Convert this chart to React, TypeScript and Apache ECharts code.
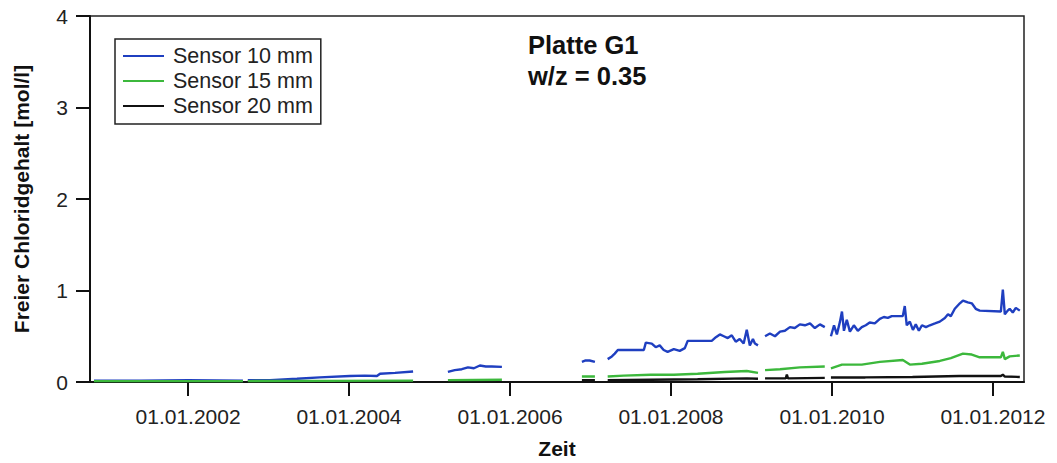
import React, { useEffect, useRef } from "react";
import * as echarts from "echarts";

const seriesNames = ["Sensor 10 mm", "Sensor 15 mm", "Sensor 20 mm"];
const seriesColors = ["#1f3fc0", "#3cb83c", "#111111"];
const tickYears = [2002, 2004, 2006, 2008, 2010, 2012];
const yTicks = [0, 1, 2, 3, 4];

// [date, value]; null = measuring gap
const sensor10: [string, number | null][] = [
  ["2000-10-31", 0.015], ["2001-06-01", 0.015], ["2002-01-01", 0.02], ["2002-09-07", 0.015],
  ["2002-09-18", null],
  ["2002-09-29", 0.02], ["2003-01-08", 0.02], ["2003-05-10", 0.035], ["2003-08-22", 0.05],
  ["2004-01-05", 0.065], ["2004-03-13", 0.07], ["2004-05-07", 0.065], ["2004-05-21", 0.09],
  ["2004-07-28", 0.1], ["2004-10-18", 0.115],
  ["2005-01-01", null],
  ["2005-03-25", 0.11], ["2005-04-25", 0.13], ["2005-05-27", 0.14], ["2005-06-24", 0.16],
  ["2005-07-21", 0.15], ["2005-08-17", 0.18], ["2005-09-13", 0.17], ["2005-10-10", 0.17],
  ["2005-11-25", 0.165],
  ["2006-06-01", null],
  ["2006-11-23", 0.22], ["2006-12-10", 0.235], ["2006-12-28", 0.235], ["2007-01-21", 0.22],
  ["2007-02-20", null],
  ["2007-03-20", 0.25], ["2007-04-08", 0.28], ["2007-04-21", 0.31], ["2007-05-05", 0.35],
  ["2007-08-31", 0.35], ["2007-09-09", 0.43], ["2007-10-06", 0.42], ["2007-10-24", 0.38],
  ["2007-11-11", 0.4], ["2007-11-29", 0.35], ["2007-12-17", 0.33], ["2008-01-14", 0.36],
  ["2008-02-10", 0.34], ["2008-03-04", 0.37], ["2008-03-17", 0.45], ["2008-07-04", 0.45],
  ["2008-07-23", 0.49], ["2008-08-10", 0.52], ["2008-08-28", 0.5], ["2008-09-15", 0.48],
  ["2008-10-03", 0.51], ["2008-10-21", 0.44], ["2008-11-08", 0.47], ["2008-11-26", 0.42],
  ["2008-12-10", 0.57], ["2008-12-24", 0.4], ["2009-01-07", 0.47], ["2009-01-16", 0.42],
  ["2009-01-30", 0.4],
  ["2009-02-15", null],
  ["2009-03-03", 0.5], ["2009-03-25", 0.53], ["2009-04-17", 0.5], ["2009-05-10", 0.55],
  ["2009-06-01", 0.56], ["2009-06-24", 0.6], ["2009-07-16", 0.59], ["2009-08-08", 0.63],
  ["2009-08-31", 0.62], ["2009-09-23", 0.64], ["2009-10-15", 0.59], ["2009-11-07", 0.63],
  ["2009-11-29", 0.6],
  ["2009-12-12", null],
  ["2009-12-27", 0.5], ["2010-01-10", 0.62], ["2010-01-23", 0.52], ["2010-02-06", 0.66],
  ["2010-02-15", 0.77], ["2010-02-24", 0.56], ["2010-03-09", 0.68], ["2010-03-23", 0.55],
  ["2010-04-10", 0.62], ["2010-04-28", 0.56], ["2010-05-16", 0.6], ["2010-06-03", 0.62],
  ["2010-06-21", 0.65], ["2010-07-14", 0.64], ["2010-08-06", 0.69], ["2010-08-24", 0.71],
  ["2010-09-11", 0.7], ["2010-09-29", 0.72], ["2010-11-18", 0.72], ["2010-11-27", 0.83],
  ["2010-12-06", 0.62], ["2010-12-20", 0.66], ["2011-01-03", 0.57], ["2011-01-16", 0.63],
  ["2011-01-30", 0.56], ["2011-02-13", 0.62], ["2011-03-03", 0.6], ["2011-03-21", 0.62],
  ["2011-04-13", 0.64], ["2011-05-05", 0.66], ["2011-05-28", 0.7], ["2011-06-11", 0.74],
  ["2011-06-24", 0.72], ["2011-07-12", 0.8], ["2011-08-04", 0.86], ["2011-08-18", 0.89],
  ["2011-09-09", 0.87], ["2011-09-27", 0.86], ["2011-10-15", 0.8], ["2011-11-02", 0.78],
  ["2012-02-06", 0.77], ["2012-02-15", 1.01], ["2012-02-24", 0.74], ["2012-03-08", 0.78],
  ["2012-03-17", 0.8], ["2012-03-31", 0.76], ["2012-04-14", 0.81], ["2012-05-02", 0.78],
];

const sensor15: [string, number | null][] = [
  ["2000-10-31", 0.01], ["2001-08-01", 0.01], ["2002-09-07", 0.01],
  ["2002-09-18", null],
  ["2002-09-29", 0.01], ["2003-09-01", 0.012], ["2004-10-18", 0.015],
  ["2005-01-01", null],
  ["2005-03-25", 0.02], ["2005-11-25", 0.025],
  ["2006-06-01", null],
  ["2006-11-23", 0.06], ["2007-01-21", 0.06],
  ["2007-02-20", null],
  ["2007-03-20", 0.06], ["2007-06-01", 0.07], ["2007-10-01", 0.08], ["2008-01-14", 0.08],
  ["2008-05-01", 0.09], ["2008-09-01", 0.11], ["2008-12-10", 0.12], ["2009-01-30", 0.1],
  ["2009-02-15", null],
  ["2009-03-03", 0.13], ["2009-05-10", 0.14], ["2009-08-08", 0.16], ["2009-11-29", 0.17],
  ["2009-12-12", null],
  ["2009-12-27", 0.15], ["2010-02-15", 0.19], ["2010-05-16", 0.19], ["2010-08-06", 0.22],
  ["2010-11-18", 0.24], ["2010-12-20", 0.19], ["2011-02-13", 0.2], ["2011-05-05", 0.23],
  ["2011-06-24", 0.26], ["2011-08-18", 0.31], ["2011-09-27", 0.3], ["2011-11-02", 0.27],
  ["2012-02-06", 0.27], ["2012-02-15", 0.33], ["2012-02-24", 0.25], ["2012-03-17", 0.28],
  ["2012-05-02", 0.29],
];

const sensor20: [string, number | null][] = [
  ["2006-11-23", 0.02], ["2007-01-21", 0.02],
  ["2007-02-20", null],
  ["2007-03-20", 0.02], ["2007-10-01", 0.025], ["2008-05-01", 0.03], ["2008-12-10", 0.04],
  ["2009-01-30", 0.035],
  ["2009-02-15", null],
  ["2009-03-03", 0.04], ["2009-06-05", 0.04], ["2009-06-10", 0.08], ["2009-06-15", 0.04],
  ["2009-11-29", 0.045],
  ["2009-12-12", null],
  ["2009-12-27", 0.05], ["2010-06-01", 0.05], ["2011-01-01", 0.055], ["2011-08-01", 0.065],
  ["2012-02-06", 0.065], ["2012-02-15", 0.08], ["2012-02-24", 0.06], ["2012-05-02", 0.055],
];

const FONT = "'Liberation Sans', Arial, sans-serif";

const toTime = (d: string) => {
  const [y, m, day] = d.split("-").map(Number);
  return new Date(y, m - 1, day).getTime();
};

export default function App() {
  const ref = useRef<HTMLDivElement>(null);
  useEffect(() => {
    if (!ref.current) return;
    const chart = echarts.init(ref.current, null, { renderer: "svg" });
    const toData = (arr: [string, number | null][]) =>
      arr.map(([d, v]) => [toTime(d), v === null ? "-" : v]);
    const tickTimes = tickYears.map((y) => new Date(y, 0, 1).getTime());
    const all = [sensor10, sensor15, sensor20];
    chart.setOption({
      animation: false,
      backgroundColor: "#ffffff",
      grid: {
        left: 90,
        top: 16,
        right: 33,
        bottom: 81,
        show: true,
        borderColor: "#222",
        borderWidth: 1.5,
        outerBoundsMode: "none",
        containLabel: false,
      },
      legend: {
        orient: "vertical",
        left: 115,
        top: 39,
        data: seriesNames,
        icon: "rect",
        itemWidth: 41,
        itemHeight: 2,
        itemGap: 3,
        padding: [6, 8, 7, 8],
        borderColor: "#222",
        borderWidth: 1.5,
        textStyle: { fontFamily: FONT, fontSize: 21.5, color: "#222", padding: [0, 0, 0, 4] },
      },
      graphic: [
        {
          type: "text",
          left: 528,
          top: 32,
          style: { text: "Platte G1", font: `bold 25.5px ${FONT}`, fill: "#111" },
        },
        {
          type: "text",
          left: 528,
          top: 63,
          style: { text: "w/z = 0.35", font: `bold 25.5px ${FONT}`, fill: "#111" },
        },
      ],
      xAxis: {
        type: "value",
        min: new Date(2000, 9, 13).getTime(),
        max: new Date(2012, 4, 21).getTime(),
        name: "Zeit",
        nameLocation: "middle",
        nameGap: 56,
        nameTextStyle: { fontFamily: FONT, fontSize: 21, fontWeight: "bold", color: "#111" },
        axisLine: { lineStyle: { color: "#111", width: 2 } },
        axisTick: { show: true, length: 14, lineStyle: { color: "#111", width: 2 }, customValues: tickTimes },
        axisLabel: {
          customValues: tickTimes,
          margin: 24,
          fontFamily: FONT,
          fontSize: 21,
          color: "#222",
          formatter: (v: number) => "01.01." + new Date(v).getFullYear(),
        },
        splitLine: { show: false },
      },
      yAxis: {
        type: "value",
        min: 0,
        max: 4,
        interval: 1,
        name: "Freier Chloridgehalt [mol/l]",
        nameLocation: "middle",
        nameGap: 58,
        nameTextStyle: { fontFamily: FONT, fontSize: 21, fontWeight: "bold", color: "#111" },
        axisLine: { show: true, lineStyle: { color: "#111", width: 2 } },
        axisTick: { show: true, length: 14, lineStyle: { color: "#111", width: 2 } },
        axisLabel: {
          margin: 22,
          fontFamily: FONT,
          fontSize: 21,
          color: "#222",
          formatter: (v: number) => (yTicks.includes(v) ? String(v) : ""),
        },
        splitLine: { show: false },
      },
      series: all.map((arr, i) => ({
        name: seriesNames[i],
        type: "line",
        data: toData(arr),
        showSymbol: false,
        symbol: "none",
        connectNulls: false,
        color: seriesColors[i],
        lineStyle: { color: seriesColors[i], width: 2.4 },
        z: 2 + i,
      })),
    });
    return () => chart.dispose();
  }, []);
  return (
    <div
      ref={ref}
      style={{ position: "absolute", left: 0, top: 0, width: 1057, height: 463, background: "#fff" }}
    />
  );
}
